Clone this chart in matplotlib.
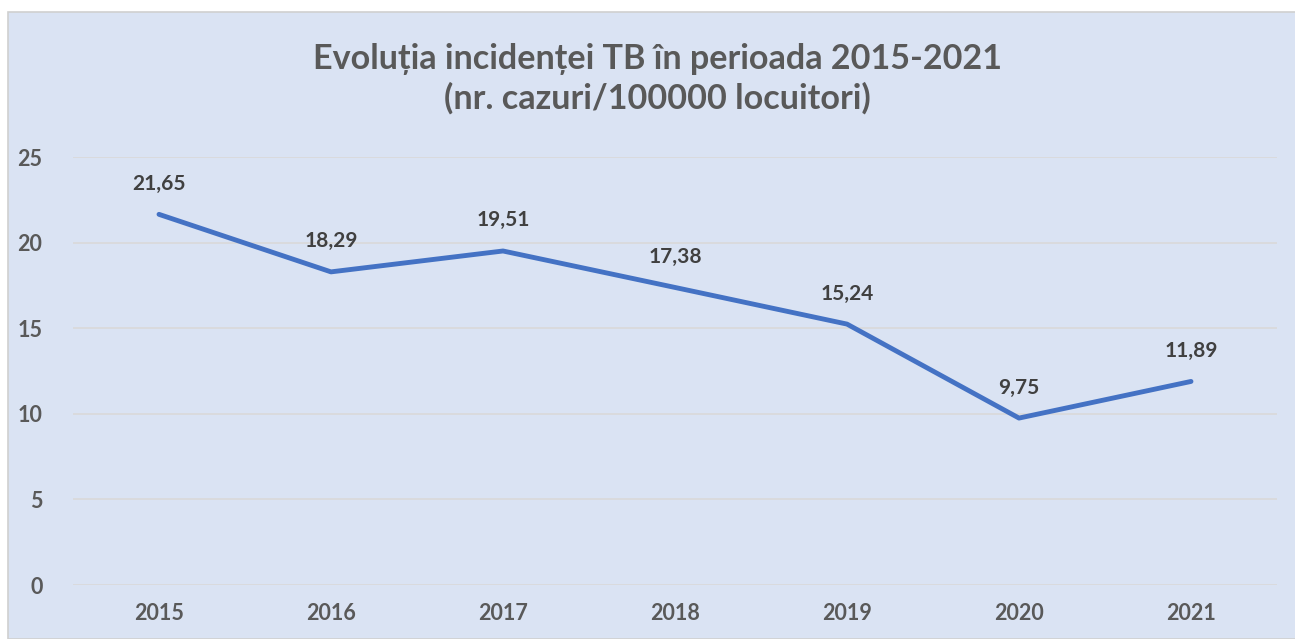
import matplotlib.pyplot as plt
import matplotlib.patches as patches

years = ["2015", "2016", "2017", "2018", "2019", "2020", "2021"]
incidence = [21.65, 18.29, 19.51, 17.38, 15.24, 9.75, 11.89]
value_labels = ["21,65", "18,29", "19,51", "17,38", "15,24", "9,75", "11,89"]
y_ticks = [0, 5, 10, 15, 20, 25]

title = "Evoluția incidenței TB în perioada 2015-2021\n(nr. cazuri/100000 locuitori)"

bg = '#dae3f3'
text_col = '#595959'
label_col = '#404040'

plt.rcParams['font.family'] = ['Lato', 'DejaVu Sans']
plt.rcParams['font.weight'] = 'bold'

W, H = 1295, 639
fig = plt.figure(figsize=(W / 100, H / 100), dpi=100)
fig.patch.set_facecolor('white')

# chart area background with light border
fig.patches.append(patches.Rectangle((8 / W, 0), 1.0, 1 - 12 / H, transform=fig.transFigure,
                                     facecolor=bg, edgecolor='#d0d0d0', linewidth=1.2, zorder=-5))

ax = fig.add_axes([73 / W, 1 - 585 / H, (1277 - 73) / W, (585 - 157) / H])
ax.set_facecolor('none')

x = list(range(len(years)))
ax.plot(x, incidence, color='#4472c4', linewidth=3.5, solid_capstyle='round',
        solid_joinstyle='round', zorder=3)

for xi, v, lab in zip(x, incidence, value_labels):
    ax.annotate(lab, (xi, v), xytext=(0, 22), textcoords='offset points',
                ha='center', va='center', fontsize=15, fontweight='bold', color=label_col)

ax.set_xlim(-0.5, len(years) - 0.5)
ax.set_ylim(0, 25)
ax.set_yticks(y_ticks)
ax.set_xticks(x)
ax.set_xticklabels(years)
ax.grid(axis='y', color='#d9d9d9', linewidth=1.2)
ax.set_axisbelow(True)
for s in ax.spines.values():
    s.set_visible(False)
ax.tick_params(axis='both', length=0, labelsize=15.5, labelcolor=text_col)
ax.tick_params(axis='y', pad=22)
ax.tick_params(axis='x', pad=13)

fig.text(657 / W, 1 - 79 / H, title, ha='center', va='center', fontsize=24.6,
         fontweight='bold', color=text_col, linespacing=1.25)

fig.savefig('out.png', dpi=100)
